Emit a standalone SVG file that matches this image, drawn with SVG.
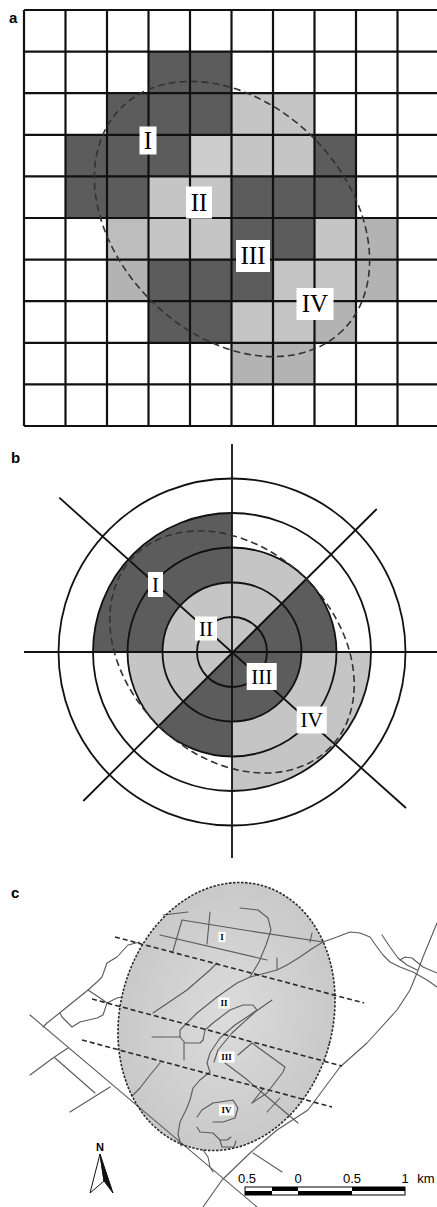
<svg xmlns="http://www.w3.org/2000/svg" width="437" height="1207" viewBox="0 0 437 1207">
<defs>
<style>
.dk{fill:#5c5c5c}
.lt{fill:#c5c5c5}
.md{fill:#b3b3b3}
.grid{stroke:#111;stroke-width:2.2;fill:none}
.lbl{fill:#fff}
.rom{font-family:"Liberation Serif","Times New Roman",serif;fill:#000;text-anchor:middle}
.pl{font-family:"Liberation Sans",Arial,sans-serif;font-weight:bold;fill:#000}
.ring{fill:none;stroke:#111;stroke-width:1.8}
.ax{stroke:#111;stroke-width:1.8}
.dash{fill:none;stroke:#333;stroke-width:1.6;stroke-dasharray:7 4}
.road{fill:none;stroke:#5a5a5a;stroke-width:1.1;stroke-linejoin:round;stroke-linecap:round}
.tr{fill:none;stroke:#2a2a2a;stroke-width:1.6;stroke-dasharray:5 3}
.sc{font-family:"Liberation Sans",Arial,sans-serif;font-size:13px;fill:#000;text-anchor:middle}
</style>
<radialGradient id="gc" cx="0.5" cy="0.5" r="0.5">
<stop offset="0" stop-color="#dcdcdc"/>
<stop offset="1" stop-color="#c9c9c9"/>
</radialGradient>
</defs>
<rect width="437" height="1207" fill="#fff"/>

<g id="panel-a">
<text class="pl" x="9" y="23" font-size="15">a</text>
<g id="cells-dark" class="dk">
<rect x="148.5" y="51.6" width="41.5" height="41.6"/><rect x="190" y="51.6" width="41.5" height="41.6"/>
<rect x="107" y="93.2" width="41.5" height="41.6"/><rect x="148.5" y="93.2" width="41.5" height="41.6"/><rect x="190" y="93.2" width="41.5" height="41.6"/>
<rect x="65.5" y="134.8" width="41.5" height="41.6"/><rect x="107" y="134.8" width="41.5" height="41.6"/><rect x="148.5" y="134.8" width="41.5" height="41.6"/><rect x="314.5" y="134.8" width="41.5" height="41.6"/>
<rect x="65.5" y="176.4" width="41.5" height="41.6"/><rect x="107" y="176.4" width="41.5" height="41.6"/><rect x="231.5" y="176.4" width="41.5" height="41.6"/><rect x="273" y="176.4" width="41.5" height="41.6"/><rect x="314.5" y="176.4" width="41.5" height="41.6"/>
<rect x="231.5" y="218" width="41.5" height="41.6"/><rect x="273" y="218" width="41.5" height="41.6"/>
<rect x="148.5" y="259.6" width="41.5" height="41.6"/><rect x="190" y="259.6" width="41.5" height="41.6"/><rect x="231.5" y="259.6" width="41.5" height="41.6"/>
<rect x="148.5" y="301.2" width="41.5" height="41.6"/><rect x="190" y="301.2" width="41.5" height="41.6"/>
</g>
<g id="cells-light" class="lt">
<rect x="231.5" y="93.2" width="41.5" height="41.6"/><rect x="273" y="93.2" width="41.5" height="41.6"/>
<rect x="190" y="134.8" width="41.5" height="41.6" fill="#cdcdcd"/><rect x="231.5" y="134.8" width="41.5" height="41.6"/><rect x="273" y="134.8" width="41.5" height="41.6"/>
<rect x="148.5" y="176.4" width="41.5" height="41.6"/><rect x="190" y="176.4" width="41.5" height="41.6"/>
<rect x="148.5" y="218" width="41.5" height="41.6"/><rect x="190" y="218" width="41.5" height="41.6"/><rect x="314.5" y="218" width="41.5" height="41.6"/>
<rect x="273" y="259.6" width="41.5" height="41.6"/><rect x="314.5" y="259.6" width="41.5" height="41.6"/>
<rect x="231.5" y="301.2" width="41.5" height="41.6"/><rect x="273" y="301.2" width="41.5" height="41.6"/>
</g>
<g id="cells-medium" class="md">
<rect x="107" y="218" width="41.5" height="41.6" fill="#bdbdbd"/><rect x="356" y="218" width="41.5" height="41.6"/>
<rect x="107" y="259.6" width="41.5" height="41.6"/><rect x="356" y="259.6" width="41.5" height="41.6"/>
<rect x="314.5" y="301.2" width="41.5" height="41.6"/>
<rect x="231.5" y="342.8" width="41.5" height="41.6"/><rect x="273" y="342.8" width="41.5" height="41.6"/>
</g>
<path id="grid-lines" class="grid" d="M24 10V426M65.5 10V426M107 10V426M148.5 10V426M190 10V426M231.5 10V426M273 10V426M314.5 10V426M356 10V426M397.5 10V426M438.5 10V426M24 10H439M24 51.6H439M24 93.2H439M24 134.8H439M24 176.4H439M24 218H439M24 259.6H439M24 301.2H439M24 342.8H439M24 384.4H439M24 426H439"/>
<ellipse id="zone-a" class="dash" cx="232" cy="219" rx="157" ry="115" transform="rotate(45 232 219)"/>
<g id="labels-a">
<rect class="lbl" x="139.5" y="126.5" width="17" height="28"/><text class="rom" x="148" y="148.8" font-size="25">I</text>
<rect class="lbl" x="186" y="186.5" width="26" height="32"/><text class="rom" x="199" y="210.8" font-size="25">II</text>
<rect class="lbl" x="236" y="240" width="34" height="32"/><text class="rom" x="253" y="264.3" font-size="25">III</text>
<rect class="lbl" x="296.5" y="288" width="37" height="32"/><text class="rom" x="315" y="312.3" font-size="25">IV</text>
</g>
</g>

<g id="panel-b">
<text class="pl" x="11" y="463" font-size="15">b</text>
<g id="sectors">
<path class="lt" fill="#bcbcbc" d="M232 652L371 652A139 139 0 0 1 232 791Z"/>
<path class="dk" d="M232 652L93 652A139 139 0 0 1 232 513Z"/>
<path class="lt" d="M232 652L232 547.5A104.5 104.5 0 0 1 305.9 578.1ZM232 652L336.5 652A104.5 104.5 0 0 1 232 756.5ZM232 652L158.1 725.9A104.5 104.5 0 0 1 127.5 652Z"/>
<path class="dk" d="M232 652L305.9 578.1A104.5 104.5 0 0 1 336.5 652ZM232 652L232 756.5A104.5 104.5 0 0 1 158.1 725.9ZM232 652L127.5 652A104.5 104.5 0 0 1 232 547.5Z"/>
<path class="dk" d="M232 652L281.1 602.9A69.5 69.5 0 0 1 281.1 701.1ZM232 652L281.1 701.1A69.5 69.5 0 0 1 182.9 701.1Z"/>
<path class="lt" d="M232 652L182.9 701.1A69.5 69.5 0 0 1 182.9 602.9ZM232 652L182.9 602.9A69.5 69.5 0 0 1 281.1 602.9Z"/>
</g>
<g id="rings">
<circle class="ring" cx="232" cy="652" r="35"/>
<circle class="ring" cx="232" cy="652" r="69.5"/>
<circle class="ring" cx="232" cy="652" r="104.5"/>
<circle class="ring" cx="232" cy="652" r="139"/>
<circle class="ring" cx="232" cy="652" r="173.5"/>
</g>
<g id="axes">
<line class="ax" x1="232" y1="444" x2="232" y2="858"/>
<line class="ax" x1="24" y1="652" x2="437" y2="652"/>
<line class="ax" x1="376.7" y1="509" x2="83.3" y2="801"/>
<line class="ax" x1="59.3" y1="497.7" x2="406" y2="808"/>
</g>
<ellipse id="zone-b" class="dash" cx="232" cy="652" rx="137" ry="104" transform="rotate(44 232 652)"/>
<g id="labels-b">
<rect class="lbl" x="148" y="572" width="15" height="25"/><text class="rom" x="155.5" y="591.5" font-size="21">I</text>
<rect class="lbl" x="195" y="616.5" width="22" height="24"/><text class="rom" x="206" y="635.5" font-size="21">II</text>
<rect class="lbl" x="246.7" y="663" width="30" height="27"/><text class="rom" x="261.7" y="683.5" font-size="21">III</text>
<rect class="lbl" x="296.7" y="706.5" width="30" height="27"/><text class="rom" x="311.7" y="727" font-size="21">IV</text>
</g>
</g>

<g id="panel-c">
<text class="pl" x="11" y="898" font-size="15">c</text>
<ellipse id="area-fill" cx="226.5" cy="1016.5" rx="106.4" ry="135.7" transform="rotate(14.7 226.5 1016.5)" fill="url(#gc)"/>
<g id="roads" class="road">
<polyline points="163,915 188,912"/>
<polyline points="182,920 250,931 323,942"/>
<polyline points="160,935 267,960"/>
<polyline points="182,920 173,951"/>
<polyline points="210,912 207,944"/>
<polyline points="240,908 258,910 268,918 271,930 266,945 259,962 250,977 237,983 217,997 197,1013 180,1030 180,1037 185,1043 200,1043 203,1040"/>
<polyline points="217,963 210,970 187,990 153,1013"/>
<polyline points="152,1037 180,1037"/>
<polyline points="184,1043 184,1060"/>
<polyline points="203,1040 205,1030 213,1023 230,1010 243,1005 253,1005 257,1010 250,1015 235,1025 220,1038 210,1053 207,1063 210,1072"/>
<polyline points="272,1000 255,1012 232,1033 218,1050 214,1062"/>
<polyline points="210,1072 200,1080 193,1088 190,1100 186,1110 180,1122 178,1134 181,1146"/>
<polyline points="238,1055 252,1043 285,1067 283,1072 267,1093 252,1103"/>
<polyline points="225,1063 245,1078 265,1095 285,1112 298,1123"/>
<polyline points="252,1103 263,1089"/>
<polyline points="267,1112 280,1098"/>
<polyline points="160,1063 150,1075 140,1088 132,1096"/>
<polyline points="197,1117 202,1110 213,1103 233,1100 238,1108 235,1118 223,1122 213,1122"/>
<polyline points="197,1127 200,1132 213,1133 220,1140 227,1140 231,1137"/>
<polyline points="220,1140 222,1147 234,1147 236,1141"/>
<polyline points="203,1150 208,1157 210,1167 213,1172"/>
<polyline points="323,942 313,948 300,957 287,965 277,970 262,974 250,977"/>
<polyline points="277,969 277,958"/>
<polyline points="312,933 310,942"/>
<polyline points="140,942 128,945 117,957 107,963 102,977 97,982 88,990 67,1007 47,1023 43,1027"/>
<polyline points="88,990 103,1000 107,1003 103,1015 97,1018 80,1022 72,1027 62,1017 60,1013"/>
<polyline points="107,1003 117,998 122,997"/>
<polyline points="30,1015 257,1207"/>
<polyline points="30,1075 53,1058 68,1048"/>
<polyline points="55,1058 95,1093"/>
<polyline points="70,1112 110,1087"/>
<polyline points="323,942 337,937 350,932 360,933 370,937 377,947 383,955 390,962 400,967 413,972 427,980 437,987"/>
<polyline points="382,935 390,947 398,958 407,965 417,970"/>
<polyline points="400,960 405,957 412,958 423,967 437,973"/>
<polyline points="203,1207 222,1180 250,1153 277,1130 308,1110 340,1067 367,1043 397,1010 410,990 417,973 423,957 437,923"/>
<polyline points="253,1153 282,1172"/>
</g>
<g id="transects" class="tr">
<line x1="115" y1="937" x2="364" y2="1003"/>
<line x1="92" y1="999" x2="342" y2="1066"/>
<line x1="82" y1="1040" x2="332" y2="1107"/>
</g>
<ellipse id="area-outline" cx="226.5" cy="1016.5" rx="106.4" ry="135.7" transform="rotate(14.7 226.5 1016.5)" fill="none" stroke="#2a2a2a" stroke-width="1.6" stroke-dasharray="2.5 1.5"/>
<g id="labels-c" font-family="Liberation Serif,serif" font-weight="bold" font-size="9" text-anchor="middle">
<rect class="lbl" x="218.5" y="932" width="7" height="10"/><text x="222" y="940.2">I</text>
<rect class="lbl" x="218.5" y="997.5" width="11" height="11"/><text x="224" y="1006.2">II</text>
<rect class="lbl" x="218.5" y="1051.5" width="16" height="11"/><text x="226.5" y="1060.2">III</text>
<rect class="lbl" x="219" y="1104.5" width="15" height="11"/><text x="226.5" y="1113.2">IV</text>
</g>
<g id="north-arrow">
<text class="pl" x="100" y="1151" font-size="11" text-anchor="middle">N</text>
<polygon points="100,1154 90,1193 104,1181" fill="#fff" stroke="#111" stroke-width="1"/>
<polygon points="100,1154 104,1181 113,1193" fill="#111" stroke="#111" stroke-width="1"/>
</g>
<g id="scale-bar">
<rect x="245" y="1187" width="160" height="8" fill="#fff" stroke="#000" stroke-width="1"/>
<rect x="245" y="1191" width="27" height="4" fill="#000"/>
<rect x="272" y="1187" width="26" height="4" fill="#000"/>
<rect x="298" y="1191" width="54" height="4" fill="#000"/>
<rect x="352" y="1187" width="53" height="4" fill="#000"/>
<text class="sc" x="247" y="1183">0.5</text>
<text class="sc" x="298" y="1183">0</text>
<text class="sc" x="352" y="1183">0.5</text>
<text class="sc" x="405" y="1183">1</text>
<text class="sc" x="426" y="1183">km</text>
</g>
</g>
</svg>
